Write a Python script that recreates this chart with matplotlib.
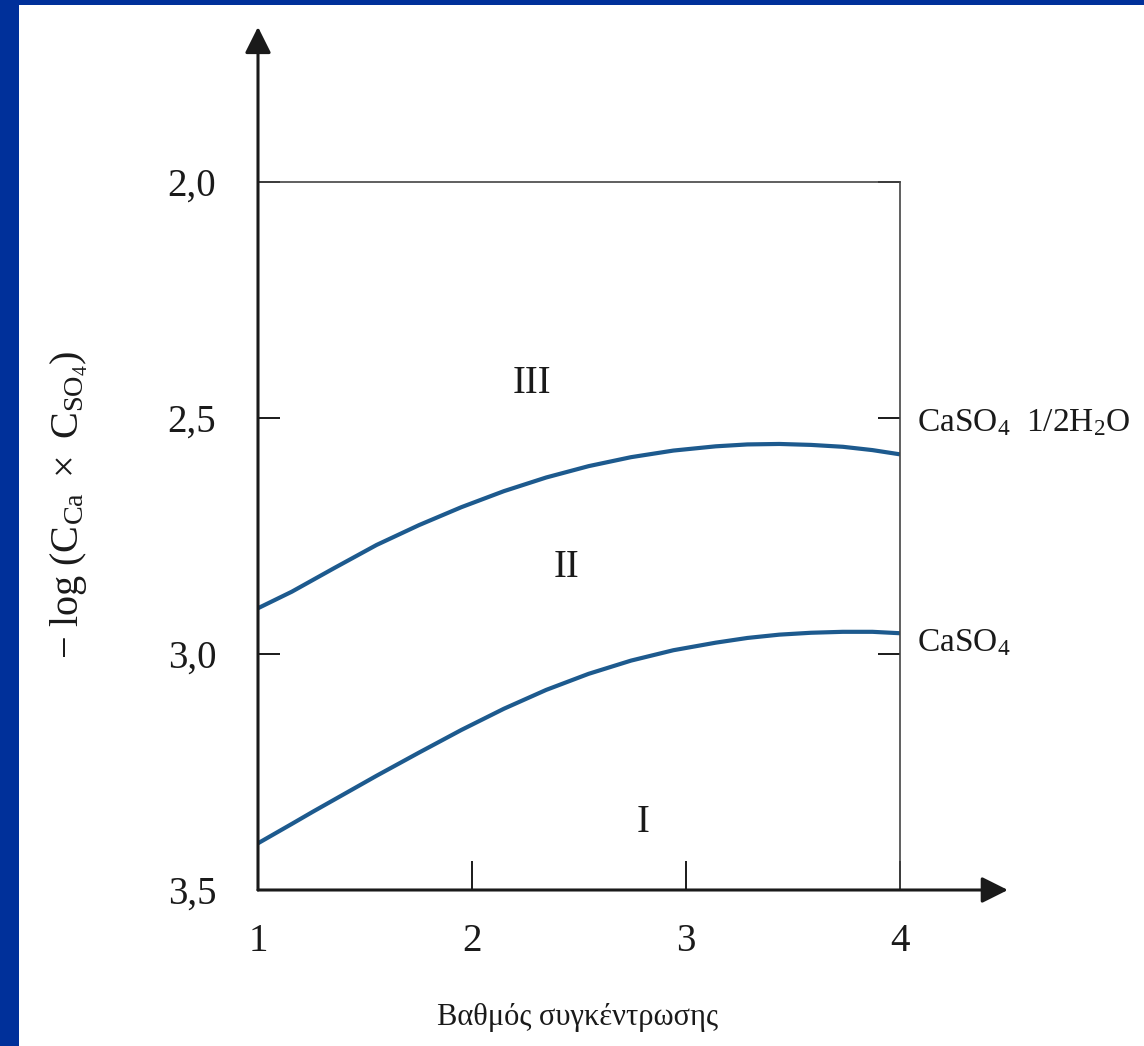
import matplotlib
matplotlib.use("Agg")
import matplotlib.pyplot as plt
from matplotlib.patches import Rectangle

# values
x_hemi = [1.0, 1.158, 1.356, 1.554, 1.752, 1.95, 2.149, 2.347, 2.545, 2.743,
          2.941, 3.139, 3.287, 3.436, 3.584, 3.733, 3.871, 4.0]
y_hemi = [2.903, 2.868, 2.818, 2.769, 2.727, 2.689, 2.655, 2.626, 2.602, 2.583,
          2.569, 2.560, 2.556, 2.555, 2.557, 2.561, 2.568, 2.577]
x_anh = [1.0, 1.158, 1.257, 1.554, 1.752, 1.95, 2.149, 2.347, 2.545, 2.743,
         2.941, 3.139, 3.287, 3.436, 3.584, 3.733, 3.871, 4.0]
y_anh = [3.401, 3.360, 3.334, 3.258, 3.209, 3.161, 3.116, 3.076, 3.042, 3.014,
         2.992, 2.976, 2.966, 2.959, 2.955, 2.953, 2.953, 2.956]

xticks = [1, 2, 3, 4]
xtick_labels = ["1", "2", "3", "4"]
yticks = [2.0, 2.5, 3.0, 3.5]
ytick_labels = ["2,0", "2,5", "3,0", "3,5"]

regions = ["III", "II", "I"]
region_x = [2.28, 2.44, 2.80]
region_y = [2.426, 2.816, 3.356]

curve_labels = [r"CaSO$\mathregular{_4}$  1/2H$\mathregular{_2}$O", r"CaSO$\mathregular{_4}$"]
curve_label_y = [2.51, 2.977]

plt.rcParams["font.family"] = ["Liberation Serif", "DejaVu Serif"]
plt.rcParams["mathtext.fontset"] = "custom"
plt.rcParams["mathtext.rm"] = "Liberation Serif"
plt.rcParams["mathtext.it"] = "Liberation Serif:italic"

line_col = "#1d5a8e"
ink = "#1a1a1a"

fig = plt.figure(figsize=(11.44, 10.46), dpi=100, facecolor="#00309a")
fig.patches.append(Rectangle((19 / 1144, 0), 1 - 19 / 1144, 1 - 5 / 1046,
                             transform=fig.transFigure, facecolor="white",
                             edgecolor="none", zorder=-1))

ax = fig.add_axes([258 / 1144, 156 / 1046, 642 / 1144, 708 / 1046])
ax.set_facecolor("none")

ax.plot(x_hemi, y_hemi, color=line_col, lw=3, solid_capstyle="butt",
        solid_joinstyle="round")
ax.plot(x_anh, y_anh, color=line_col, lw=3, solid_capstyle="butt",
        solid_joinstyle="round")

ax.set_xlim(1, 4)
ax.set_ylim(3.5, 2.0)

for s in ["left", "bottom"]:
    ax.spines[s].set_visible(False)
for s in ["top", "right"]:
    ax.spines[s].set_linewidth(1.2)
    ax.spines[s].set_color("#444444")

# axis arrows
arrow = dict(arrowstyle="-|>,head_length=0.8,head_width=0.4", lw=2.2,
             color=ink, shrinkA=0, shrinkB=0, mutation_scale=20)
ax.annotate("", xy=(0, 1.219), xytext=(0, 0), xycoords="axes fraction",
            arrowprops=arrow, annotation_clip=False)
ax.annotate("", xy=(1.168, 0), xytext=(0, 0), xycoords="axes fraction",
            arrowprops=arrow, annotation_clip=False)

ax.set_xticks(xticks)
ax.set_xticklabels(xtick_labels)
ax.set_yticks(yticks)
ax.set_yticklabels(ytick_labels)
ax.tick_params(axis="x", direction="in", length=21, width=1.4, pad=24,
               labelsize=28, colors=ink)
ax.tick_params(axis="y", direction="in", length=16, width=1.4, pad=30,
               labelsize=28, colors=ink, right=True)

for name, rx, ry in zip(regions, region_x, region_y):
    ax.text(rx, ry, name, fontsize=28, ha="center", va="center", color=ink)

for lab, ly in zip(curve_labels, curve_label_y):
    ax.annotate(lab, xy=(4, ly), xytext=(12, 0), textcoords="offset points",
                fontsize=24, ha="left", va="center", color=ink,
                annotation_clip=False)

ax.set_xlabel("Βαθμός συγκέντρωσης", fontsize=22, color=ink)
ax.xaxis.set_label_coords(0.497, -0.160)
ax.set_ylabel(r"$-\ \mathrm{log}\ (\mathrm{C}_{\mathrm{Ca}}\ \times\ \mathrm{C}_{\mathrm{SO}_4})$",
              fontsize=29, color=ink)
ax.yaxis.set_label_coords(-0.262, 0.544)

fig.savefig("out.png", dpi=100, facecolor=fig.get_facecolor())
